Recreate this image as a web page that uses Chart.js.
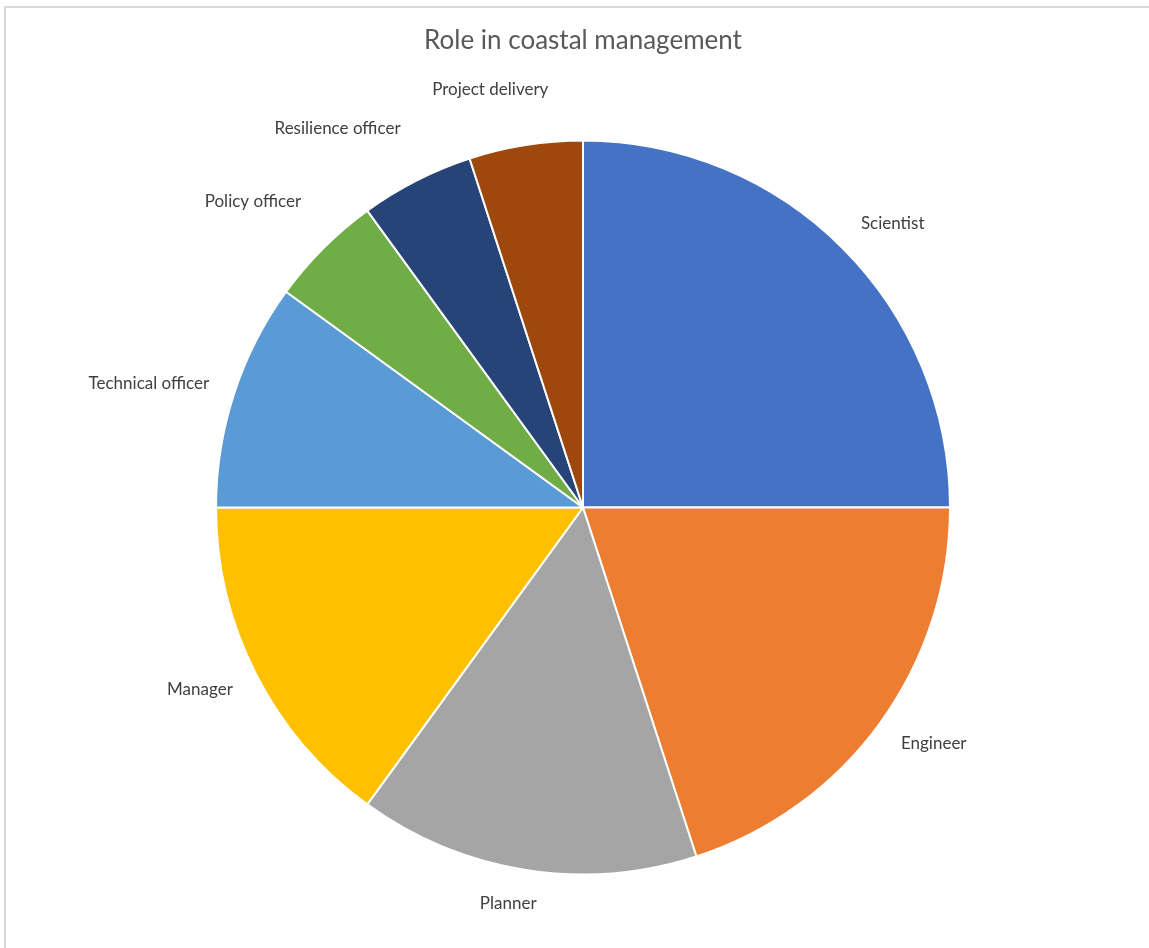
<!DOCTYPE html>
<html>
<head>
<meta charset="utf-8">
<script src="https://cdn.jsdelivr.net/npm/chart.js@4.4.0/dist/chart.umd.min.js"></script>
<style>
  html, body { margin: 0; padding: 0; background: #fff; }
  #wrap { width: 1149px; height: 948px; position: relative; }
</style>
</head>
<body>
<div id="wrap"><canvas id="myChart"></canvas></div>
<script>
// Datos del gráfico
const roles = ['Scientist', 'Engineer', 'Planner', 'Manager', 'Technical officer',
  'Policy officer', 'Resilience officer', 'Project delivery'];
const counts = [5, 4, 3, 3, 2, 1, 1, 1];
const chartTitle = 'Role in coastal management';

const colors = ['#4472C4', '#ED7D31', '#A5A5A5', '#FFC000', '#5B9BD5',
  '#70AD47', '#264478', '#9E480E'];

const ctx = document.getElementById('myChart');

// Etiquetas fuera del pastel, titulo y marco (estilo Excel)
const outsideLabels = {
  id: 'outsideLabels',
  beforeDraw(chart) {
    const c = chart.ctx;
    c.save();
    c.strokeStyle = '#d9d9d9';
    c.lineWidth = 2;
    c.beginPath();
    c.moveTo(5, chart.height);
    c.lineTo(5, 7);
    c.lineTo(chart.width, 7);
    c.stroke();
    c.restore();
  },
  afterDatasetsDraw(chart) {
    const c = chart.ctx;
    const meta = chart.getDatasetMeta(0);
    const total = counts.reduce((a, b) => a + b, 0);
    c.save();
    c.fillStyle = '#404040';
    c.font = '17px Lato';
    c.textAlign = 'center';
    c.textBaseline = 'middle';
    meta.data.forEach((arc, i) => {
      const p = arc.getProps(['x', 'y', 'startAngle', 'endAngle', 'outerRadius'], true);
      const mid = (p.startAngle + p.endAngle) / 2;
      const r = p.outerRadius + 26;
      const px = p.x + Math.cos(mid) * r;
      const py = p.y + Math.sin(mid) * r;
      const w = c.measureText(roles[i]).width;
      const h = 16;
      const kx = Math.max(-1, Math.min(1, 3 * Math.cos(mid)));
      const ky = Math.sin(mid);
      let x = px + kx * w / 2;
      let y = py + ky * h / 2;
      // las porciones pequeñas de arriba quedan empujadas hacia afuera
      if (counts[i] / total < 0.06 && Math.sin(mid) < 0) {
        x -= 4;
        y -= 22;
      }
      c.fillText(roles[i], x, y);
    });
    c.fillStyle = '#595959';
    c.font = '26px Lato';
    c.fillText(chartTitle, chart.chartArea.left + chart.chartArea.width / 2, 41);
    c.restore();
  }
};

new Chart(ctx, {
  type: 'pie',
  data: {
    labels: roles,
    datasets: [{
      data: counts,
      backgroundColor: colors,
      borderColor: '#ffffff',
      borderWidth: 2
    }]
  },
  options: {
    responsive: true,
    maintainAspectRatio: false,
    animation: false,
    layout: {
      padding: { top: 139, bottom: 72, left: 215, right: 198 }
    },
    plugins: {
      legend: { display: false },
      title: { display: false },
      tooltip: { enabled: false }
    },
    events: []
  },
  plugins: [outsideLabels]
});
</script>
</body>
</html>
